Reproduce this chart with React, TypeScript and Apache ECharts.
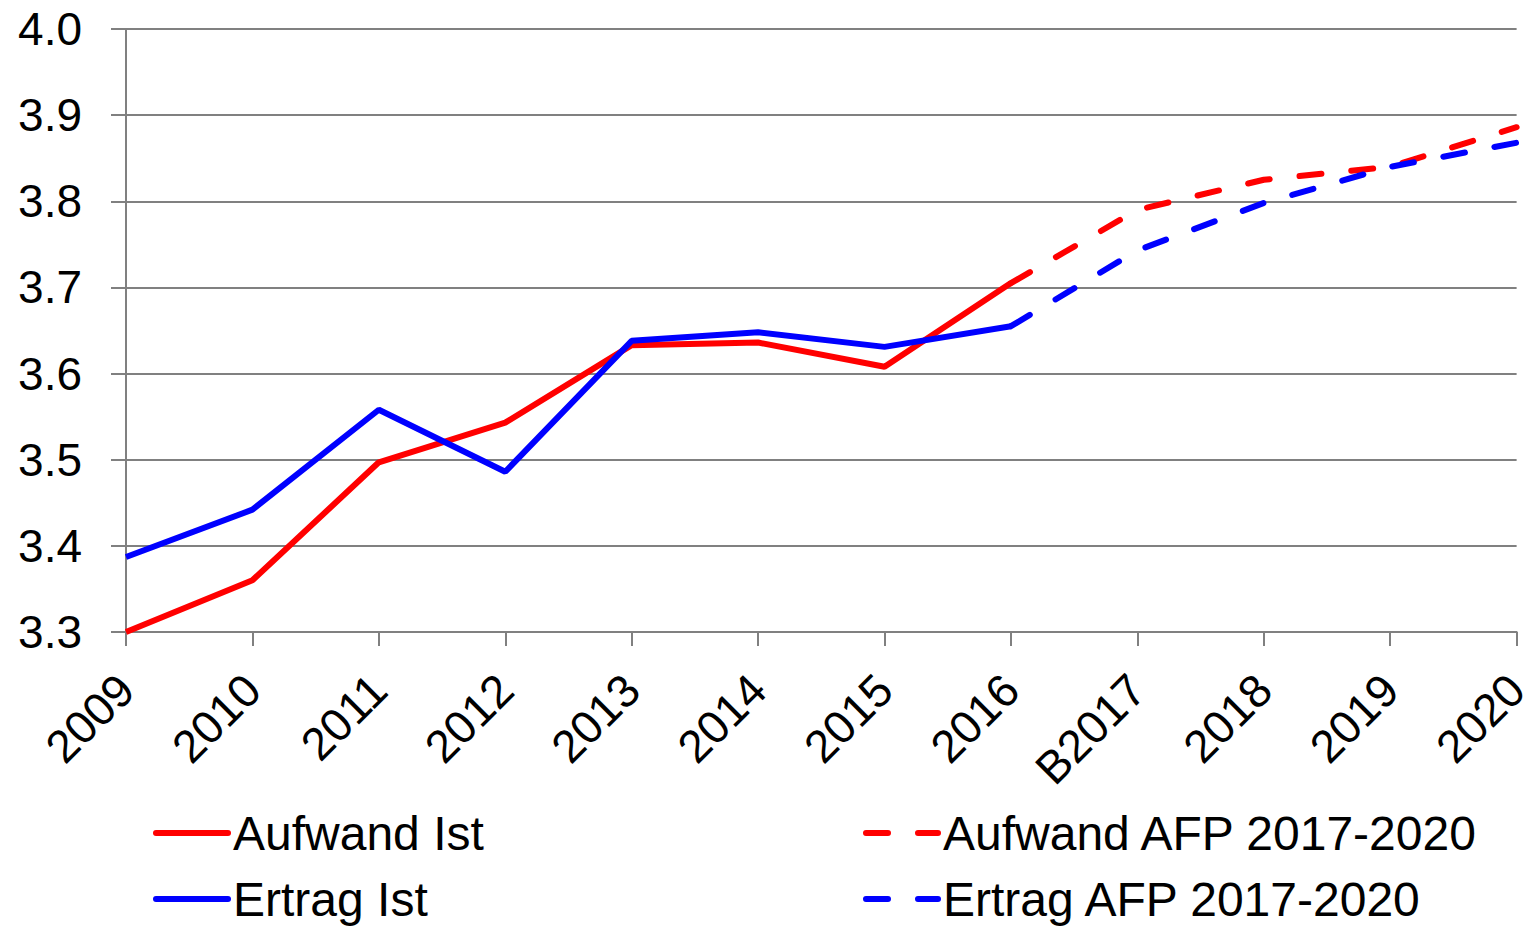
import React, { useEffect, useRef } from "react";
import * as echarts from "echarts";

const categories = ["2009", "2010", "2011", "2012", "2013", "2014", "2015", "2016", "B2017", "2018", "2019", "2020"];
const aufwandIst = [3.300, 3.360, 3.497, 3.543, 3.633, 3.636, 3.608, 3.705, null, null, null, null];
const ertragIst = [3.387, 3.442, 3.558, 3.486, 3.638, 3.648, 3.631, 3.655, null, null, null, null];
const aufwandAfp = [null, null, null, null, null, null, null, 3.705, 3.790, 3.825, 3.840, 3.886];
const ertragAfp = [null, null, null, null, null, null, null, 3.655, 3.743, 3.798, 3.840, 3.868];

const FONT = "'Liberation Sans', Arial, sans-serif";

export default function App() {
  const ref = useRef<HTMLDivElement>(null);
  useEffect(() => {
    if (!ref.current) return;
    const chart = echarts.init(ref.current, null, { renderer: "svg" });
    const grey = "#808080";
    const dash = [22, 30];
    const mkLegend = (name: string, left: number, top: number) => ({
      left,
      top,
      padding: 0,
      itemWidth: 72,
      itemHeight: 12,
      data: [name],
      itemStyle: { opacity: 0 },
      lineStyle: { width: 6, cap: "round" },
      textStyle: { fontSize: 48, fontFamily: FONT, color: "#000", lineHeight: 48 },
    });
    chart.setOption({
      animation: false,
      textStyle: { fontFamily: FONT, color: "#000" },
      grid: { left: 126, right: 17, top: 29, bottom: 294, containLabel: false },
      legend: [
        mkLegend("Aufwand Ist", 153, 809),
        mkLegend("Ertrag Ist", 153, 875),
        mkLegend("Aufwand AFP 2017-2020", 863, 809),
        mkLegend("Ertrag AFP 2017-2020", 863, 875),
      ],
      xAxis: {
        type: "category",
        data: categories,
        boundaryGap: false,
        axisLine: { lineStyle: { color: grey, width: 2 } },
        axisTick: { show: true, length: 14, lineStyle: { color: grey, width: 2 } },
        axisLabel: { rotate: 45, fontSize: 46, color: "#000", fontFamily: FONT, margin: 50, interval: 0 },
      },
      yAxis: {
        type: "value",
        min: 3.3,
        max: 4.0,
        interval: 0.1,
        axisLine: { show: true, lineStyle: { color: grey, width: 2 } },
        axisTick: { show: true, length: 15, lineStyle: { color: grey, width: 2 } },
        splitLine: { lineStyle: { color: grey, width: 2 } },
        axisLabel: {
          fontSize: 46,
          color: "#000",
          fontFamily: FONT,
          margin: 44,
          formatter: (v: number) => v.toFixed(1),
        },
      },
      series: [
        {
          name: "Aufwand Ist",
          type: "line",
          data: aufwandIst,
          showSymbol: false,
          symbol: "none",
          lineStyle: { color: "#ff0000", width: 6 },
          itemStyle: { color: "#ff0000" },
        },
        {
          name: "Ertrag Ist",
          type: "line",
          data: ertragIst,
          showSymbol: false,
          symbol: "none",
          lineStyle: { color: "#0000ff", width: 6 },
          itemStyle: { color: "#0000ff" },
        },
        {
          name: "Aufwand AFP 2017-2020",
          type: "line",
          data: aufwandAfp,
          showSymbol: false,
          symbol: "none",
          lineStyle: { color: "#ff0000", width: 6, type: dash, cap: "round" },
          itemStyle: { color: "#ff0000" },
        },
        {
          name: "Ertrag AFP 2017-2020",
          type: "line",
          data: ertragAfp,
          showSymbol: false,
          symbol: "none",
          lineStyle: { color: "#0000ff", width: 6, type: dash, cap: "round" },
          itemStyle: { color: "#0000ff" },
        },
      ],
    });
    return () => chart.dispose();
  }, []);
  return <div ref={ref} style={{ width: 1535, height: 926, position: "absolute", left: 0, top: 0 }} />;
}
